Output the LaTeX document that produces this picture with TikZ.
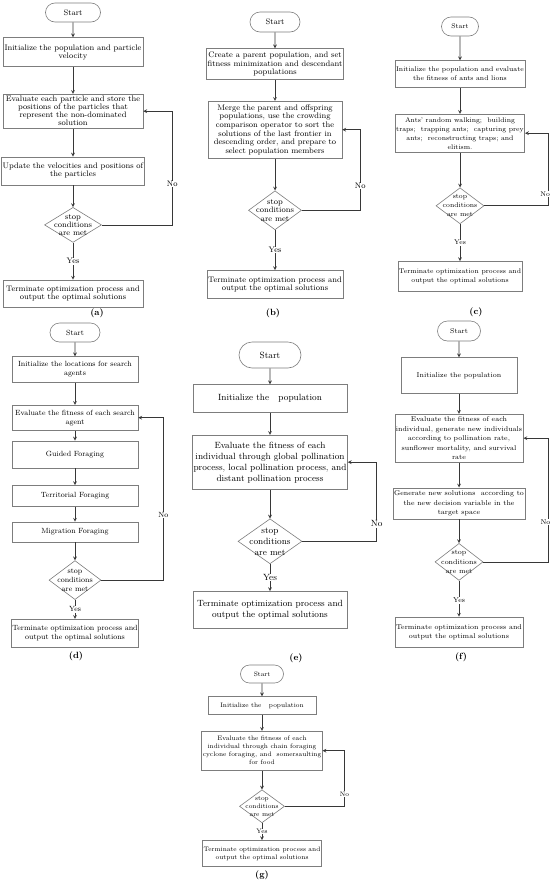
\documentclass[tikz,border=0pt]{standalone}
\usetikzlibrary{positioning, arrows, shapes.geometric, shapes.misc}

\definecolor{boxgray}{RGB}{125,125,125}
\definecolor{linegray}{RGB}{55,55,55}

\tikzset{
    box/.style={draw=boxgray, line width=0.6pt, rectangle, align=center, inner sep=1pt},
    term/.style={draw=boxgray, line width=0.6pt, rounded rectangle, inner sep=1pt},
    cond/.style={draw=boxgray, line width=0.6pt, diamond, inner sep=0pt},
    condtext/.style={align=center, inner sep=0pt},
    yn/.style={fill=white, inner sep=0.6pt},
    arr/.style={->, >=stealth, draw=linegray, line width=0.7pt},
    sub/.style={font=\fontsize{9}{10}\selectfont\bfseries}
}

\begin{document}
\begin{tikzpicture}[x=1pt, y=-1pt]
                \useasboundingbox (0,0) rectangle (550,884);

                % (a)
                \begin{scope}[every node/.append style={font=\fontsize{8}{8}\selectfont}]
                \node[term, minimum width=57pt, minimum height=19pt] (Sa) at (73,12.5) {Start};
                \node[box, minimum width=140pt, minimum height=29pt, below=15pt of Sa] (a1) {Initialize the population and particle\\velocity};
                \node[box, minimum width=140pt, minimum height=34pt, below=27pt of a1] (a2) {Evaluate each particle and store the\\positions of the particles that\\represent the non-dominated\\solution};
                \node[box, minimum width=140pt, minimum height=28pt, below=28pt of a2] (a3) {Update the velocities and positions of\\the particles};
                \node[cond, minimum width=57pt, minimum height=35pt, below=22pt of a3] (a4) {};
                \node[condtext] (a4t) at (a4) {stop\\conditions\\are met};
                \node[box, minimum width=140pt, minimum height=27pt, below=37pt of a4] (a5) {Terminate optimization process and\\output the optimal solutions};
                \coordinate[right=29pt of a2.east] (a6);

                \draw[arr] (Sa) -- (a1);
                \draw[arr] (a1) -- (a2);
                \draw[arr] (a2) -- (a3);
                \draw[arr] (a3) -- (a4);
                \draw[arr] (a4) -- node[yn] {Yes} (a5);
                \draw[arr] (a4.east) -| node[yn, pos=0.68] {No} (a6) -- (a2.east);
                \node[sub] (capa) at (97,313) {(a)};
                \end{scope}

                % (b)
                \begin{scope}[every node/.append style={font=\fontsize{8}{8.6}\selectfont}]
                \node[term, minimum width=52pt, minimum height=20pt] (Sb) at (275,22) {Start};
                \node[box, minimum width=134pt, minimum height=31pt, below=16pt of Sb] (b1) {Create a parent population, and set\\fitness minimization and descendant\\populations};
                \node[box, minimum width=134pt, minimum height=57pt, below=21pt of b1] (b2) {Merge the parent and offspring\\populations, use the crowding\\comparison operator to sort the\\solutions of the last frontier in\\descending order, and prepare to\\select population members};
                \node[cond, minimum width=53pt, minimum height=39pt, below=32pt of b2] (b3) {};
                \node[condtext] (b3t) at (b3) {stop\\conditions\\are met};
                \node[box, minimum width=134pt, minimum height=28pt, below=40pt of b3] (b4) {Terminate optimization process and\\output the optimal solutions};
                \coordinate[right=18pt of b2.east] (b5);

                \draw[arr] (Sb) -- (b1);
                \draw[arr] (b1) -- (b2);
                \draw[arr] (b2) -- (b3);
                \draw[arr] (b3) -- node[yn] {Yes} (b4);
                \draw[arr] (b3.east) -| node[yn, pos=0.65] {No} (b5) -- (b2.east);
                \node[sub] (capb) at (273,313) {(b)};
                \end{scope}

                % (c)
                \begin{scope}[every node/.append style={font=\fontsize{6.8}{9}\selectfont}]
                \node[term, minimum width=39pt, minimum height=19pt] (Sc) at (460,26.5) {Start};
                \node[box, minimum width=116pt, minimum height=27pt, below=24pt of Sc] (c1) {Initialize the population and evaluate\\the fitness of ants and lions};
                \node[box, minimum width=116pt, minimum height=38pt, below=26pt of c1] (c2) {Ants' random walking;\ \ building\\traps;\ \ trapping ants;\ \ capturing prey\\ants;\ \ reconstructing traps; and\\elitism.};
                \node[cond, minimum width=48pt, minimum height=36pt, below=35pt of c2] (c3) {};
                \node[condtext] (c3t) at (c3) {stop\\conditions\\are met};
                \node[box, minimum width=116pt, minimum height=30pt, below=37pt of c3] (c4) {Terminate optimization process and\\output the optimal solutions};
                \coordinate[right=23pt of c2.east] (c5);

                \draw[arr] (Sc) -- (c1);
                \draw[arr] (c1) -- (c2);
                \draw[arr] (c2) -- (c3);
                \draw[arr] (c3) -- node[yn] {Yes} (c4);
                \draw[arr] (c3.east) -| node[yn, pos=0.58, xshift=-3pt] {No} (c5) -- (c2.east);
                \node[sub] (capc) at (476,312) {(c)};
                \end{scope}

                % (d)
                \begin{scope}[every node/.append style={font=\fontsize{7.5}{9}\selectfont}]
                \node[term, minimum width=52pt, minimum height=19pt] (Sd) at (75,332.5) {Start};
                \node[box, minimum width=126pt, minimum height=26pt, below=14pt of Sd] (d1) {Initialize the locations for search\\agents};
                \node[box, minimum width=126pt, minimum height=25pt, below=22pt of d1] (d2) {Evaluate the fitness of each search\\agent};
                \node[box, minimum width=126pt, minimum height=27pt, below=10pt of d2] (d3) {Guided Foraging};
                \node[box, minimum width=126pt, minimum height=21pt, below=17pt of d3] (d4) {Territorial Foraging};
                \node[box, minimum width=126pt, minimum height=20pt, below=15pt of d4] (d5) {Migration Foraging};
                \node[cond, minimum width=52pt, minimum height=39pt, below=18pt of d5] (d6) {};
                \node[condtext] (d6t) at (d6) {stop\\conditions\\are met};
                \node[box, minimum width=126pt, minimum height=28pt, below=19pt of d6] (d7) {Terminate optimization process and\\output the optimal solutions};
                \coordinate[right=25pt of d2.east] (d8);

                \draw[arr] (Sd) -- (d1);
                \draw[arr] (d1) -- (d2);
                \draw[arr] (d2) -- (d3);
                \draw[arr] (d3) -- (d4);
                \draw[arr] (d4) -- (d5);
                \draw[arr] (d5) -- (d6);
                \draw[arr] (d6) -- node[yn] {Yes} (d7);
                \draw[arr] (d6.east) -| node[yn, pos=0.70] {No} (d8) -- (d2.east);
                \node[sub] (capd) at (76,656) {(d)};
                \end{scope}

                % (e)
                \begin{scope}[every node/.append style={font=\fontsize{9}{11}\selectfont}]
                \node[term, minimum width=64pt, minimum height=26pt] (Se) at (270,355) {Start};
                \node[box, minimum width=154pt, minimum height=28pt, below=16pt of Se] (e1) {Initialize the\ \ \ population};
                \node[box, minimum width=154pt, minimum height=54pt, below=22pt of e1] (e2) {Evaluate the fitness of each\\individual through global pollination\\process, local pollination process, and\\distant pollination process};
                \node[cond, minimum width=64pt, minimum height=45pt, below=29pt of e2] (e3) {};
                \node[condtext] (e3t) at (e3) {stop\\conditions\\are met};
                \node[box, minimum width=154pt, minimum height=37pt, below=27pt of e3] (e4) {Terminate optimization process and\\output the optimal solutions};
                \coordinate[right=29pt of e2.east] (e5);

                \draw[arr] (Se) -- (e1);
                \draw[arr] (e1) -- (e2);
                \draw[arr] (e2) -- (e3);
                \draw[arr] (e3) -- node[yn] {Yes} (e4);
                \draw[arr] (e3.east) -| node[yn, pos=0.61] {No} (e5) -- (e2.east);
                \node[sub] (cape) at (296,658) {(e)};
                \end{scope}

                % (f)
                \begin{scope}[every node/.append style={font=\fontsize{7}{9.5}\selectfont}]
                \node[term, minimum width=45pt, minimum height=20pt] (Sf) at (459,331) {Start};
                \node[box, minimum width=116pt, minimum height=36pt, below=16pt of Sf] (f1) {Initialize the population};
                \node[box, minimum width=116pt, minimum height=48pt, below=20pt of f1] (f2) {Evaluate the fitness of each\\individual, generate new individuals\\according to pollination rate,\\sunflower mortality, and survival\\rate};
                \node[box, minimum width=116pt, minimum height=31pt, below=25pt of f2] (f3) {Generate new solutions\ \ according to\\the new decision variable in the\\target space};
                \node[cond, minimum width=48pt, minimum height=37pt, below=24pt of f3] (f4) {};
                \node[condtext] (f4t) at (f4) {stop\\conditions\\are met};
                \node[box, minimum width=116pt, minimum height=30pt, below=36pt of f4] (f5) {Terminate optimization process and\\output the optimal solutions};
                \coordinate[right=25pt of f2.east] (f6);

                \draw[arr] (Sf) -- (f1);
                \draw[arr] (f1) -- (f2);
                \draw[arr] (f2) -- (f3);
                \draw[arr] (f3) -- (f4);
                \draw[arr] (f4) -- node[yn, pos=0.55] {Yes} (f5);
                \draw[arr] (f4.east) -| node[yn, pos=0.66, xshift=-3pt] {No} (f6) -- (f2.east);
                \node[sub] (capf) at (461,657) {(f)};
                \end{scope}

                % (g)
                \begin{scope}[every node/.append style={font=\fontsize{6.5}{8}\selectfont}]
                \node[term, minimum width=45pt, minimum height=18pt] (Sg) at (262,674) {Start};
                \node[box, minimum width=108pt, minimum height=18pt, below=13pt of Sg] (g1) {Initialize the\ \ \ population};
                \node[box, minimum width=108pt, minimum height=39pt, below=16pt of g1] (g2) {Evaluate the fitness of each\\individual through chain foraging\\cyclone foraging, and\ \ somersaulting\\for food};
                \node[cond, minimum width=45pt, minimum height=33pt, below=19pt of g2] (g3) {};
                \node[condtext] (g3t) at (g3) {stop\\conditions\\are met};
                \node[box, minimum width=108pt, minimum height=26pt, below=17pt of g3] (g4) {Terminate optimization process and\\output the optimal solutions};
                \coordinate[right=22pt of g2.east] (g5);

                \draw[arr] (Sg) -- (g1);
                \draw[arr] (g1) -- (g2);
                \draw[arr] (g2) -- (g3);
                \draw[arr] (g3) -- node[yn] {Yes} (g4);
                \draw[arr] (g3.east) -| node[yn, pos=0.61] {No} (g5) -- (g2.east);
                \node[sub] (capg) at (262,875) {(g)};
                \end{scope}
            \end{tikzpicture}
\end{document}
